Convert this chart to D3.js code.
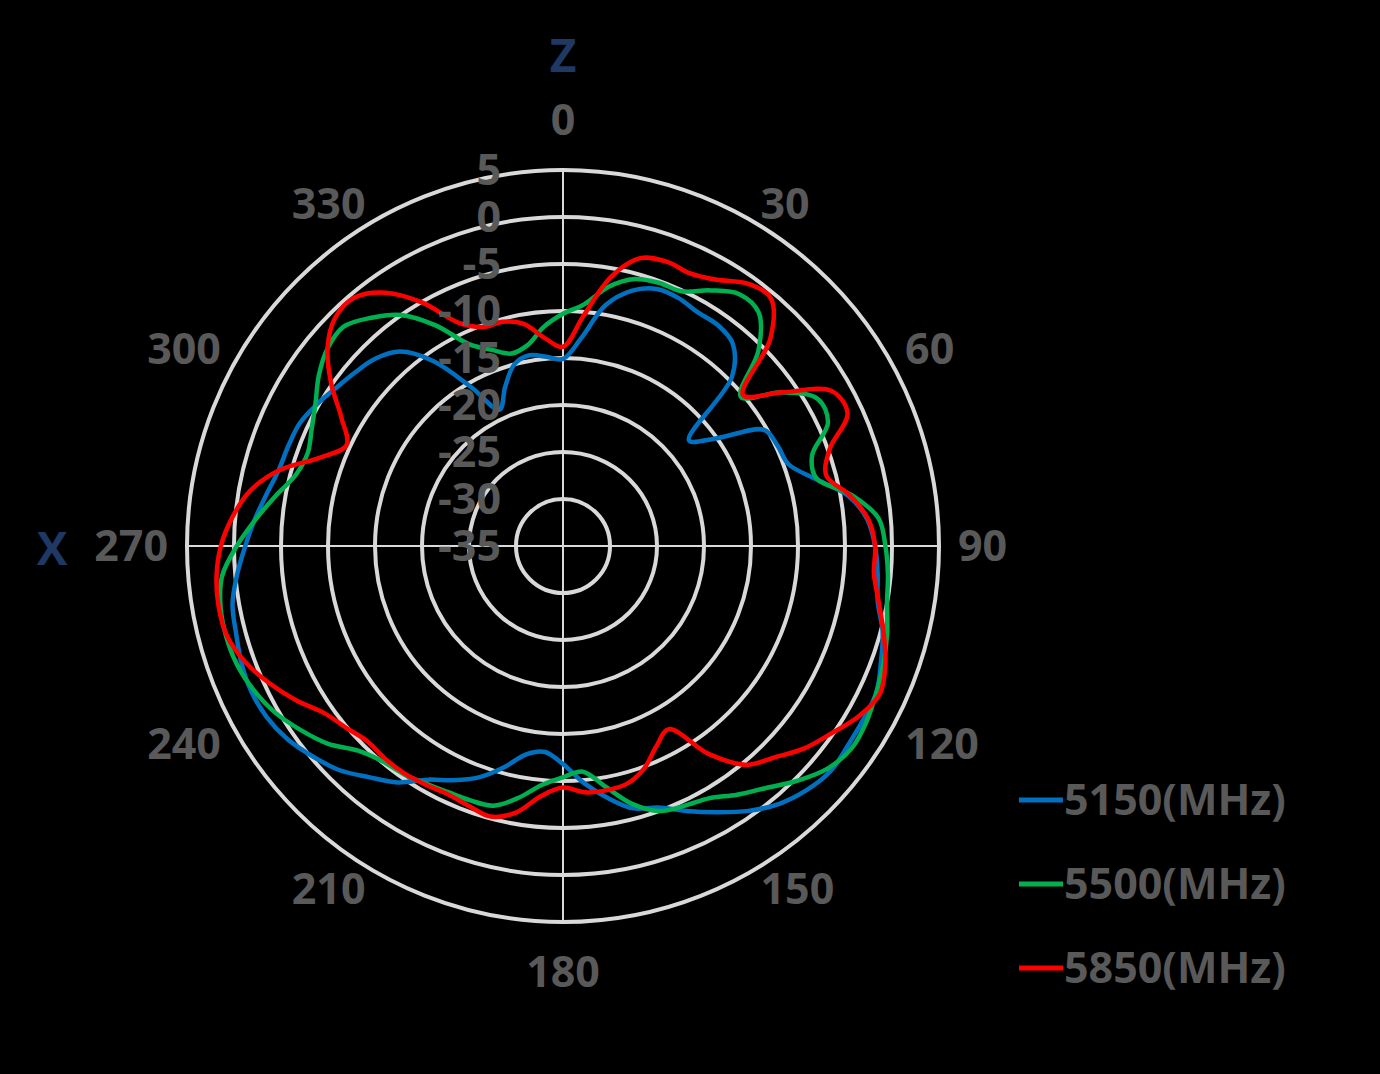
<!DOCTYPE html>
<html>
<head>
<meta charset="utf-8">
<script src="https://cdn.jsdelivr.net/npm/d3@7"></script>
<style>
  html, body { margin: 0; padding: 0; background: #000; }
  svg { display: block; }
  text { font-family: "Open Sans", "Noto Sans", sans-serif; font-weight: 700; }
</style>
</head>
<body>
<svg id="chart" width="1380" height="1074"></svg>
<script>
// ---- Data ----
const angles = [0,5,10,15,20,25,30,35,40,45,50,55,60,65,70,75,80,85,90,95,100,105,110,115,
  120,125,130,135,140,145,150,155,160,165,170,175,180,185,190,195,200,205,210,215,220,225,230,235,
  240,245,250,255,260,265,270,275,280,285,290,295,300,305,310,315,320,325,330,335,340,345,350,355];

const series5150 = [-15.1,-12.8,-9.0,-6.9,-5.9,-5.9,-6.3,-6.3,-6.9,-9.6,-17.5,-15.0,-10.3,-9.8,-9.5,-7.3,-4.2,-2.5,-1.8,-1.4,-1.0,0.2,1.0,1.8,
  1.9,2.0,2.2,1.7,0.8,-0.6,-2.3,-3.9,-5.4,-6.1,-7.8,-9.7,-11.8,-13.0,-12.5,-10.6,-8.8,-7.5,-6.3,-4.3,-2.9,-1.3,-0.2,0.8,
  1.4,1.6,1.4,1.0,0.7,-0.2,-1.2,-2.1,-3.0,-3.7,-3.9,-4.1,-4.8,-5.6,-6.2,-6.8,-8.0,-11.0,-15.5,-19.0,-17.0,-15.0,-14.4,-14.8];

const series5500 = [-10.3,-9.2,-7.0,-5.6,-5.2,-5.1,-3.6,-2.3,-2.6,-5.6,-10.3,-6.5,-3.7,-3.9,-6.8,-7.1,-3.8,-1.3,-0.7,-0.3,0.0,0.7,1.3,1.8,
  2.3,2.5,1.8,0.3,-1.4,-2.7,-4.0,-4.5,-5.0,-6.6,-9.0,-10.9,-10.4,-9.5,-7.8,-6.4,-6.2,-6.1,-5.8,-5.4,-5.1,-4.2,-2.3,-0.9,
  0.4,1.3,1.9,2.1,2.0,1.4,-0.3,-2.2,-4.0,-5.6,-6.1,-5.5,-4.6,-3.3,-2.3,-2.0,-3.3,-5.0,-7.9,-11.3,-12.8,-13.8,-13.3,-11.6];

const series5850 = [-13.8,-10.5,-6.0,-3.3,-2.8,-3.0,-2.3,-0.9,-0.6,-3.8,-10.0,-6.5,-2.0,-1.6,-4.8,-6.0,-4.0,-2.4,-1.8,-1.8,-0.9,0.3,1.5,2.2,
  1.3,-0.2,-1.5,-3.2,-4.6,-8.0,-12.5,-11.5,-9.8,-8.8,-8.6,-8.7,-9.3,-8.3,-6.2,-5.2,-5.6,-5.9,-5.7,-5.5,-5.5,-5.6,-4.9,-4.0,
  -2.2,-0.5,1.0,2.0,2.2,2.0,1.4,0.3,-1.2,-3.8,-7.5,-9.6,-7.8,-4.9,-2.3,-0.7,-0.5,-2.1,-5.1,-8.8,-10.2,-10.3,-11.0,-12.8];

const seriesNames = ["5150(MHz)", "5500(MHz)", "5850(MHz)"];
const seriesColors = ["#0070C0", "#00B050", "#FF0000"];
const radialTicks = [-35,-30,-25,-20,-15,-10,-5,0,5];
const angleTicks = [0,30,60,90,120,150,180,210,240,270,300,330];
const axisTitles = { z: "Z", x: "X" };

// ---- Layout ----
const cx = 563, cy = 546, R = 376;
const svg = d3.select("#chart");
svg.append("rect").attr("width", 1380).attr("height", 1074).attr("fill", "#000");

const r = d3.scaleLinear().domain([-35, 5]).range([0, R]);
const g = svg.append("g").attr("transform", `translate(${cx},${cy})`);

// rings
g.selectAll("circle.ring").data(radialTicks.filter(v => v > -35)).join("circle")
  .attr("class", "ring").attr("r", d => r(d))
  .attr("fill", "none").attr("stroke", "#D9D9D9").attr("stroke-width", 4);

// axes cross
g.append("line").attr("x1", 0).attr("x2", 0).attr("y1", -R).attr("y2", R)
  .attr("stroke", "#D9D9D9").attr("stroke-width", 2);
g.append("line").attr("y1", 0).attr("y2", 0).attr("x1", -R).attr("x2", R)
  .attr("stroke", "#D9D9D9").attr("stroke-width", 2);

// series
const allSeries = [series5150, series5500, series5850];
const line = d3.lineRadial()
  .angle(d => d[0] * Math.PI / 180)
  .radius(d => r(d[1]))
  .curve(d3.curveCatmullRomClosed.alpha(0.5));

allSeries.forEach((vals, i) => {
  const pts = angles.map((a, j) => [a, vals[j]]);
  g.append("path").attr("d", line(pts))
    .attr("fill", "none").attr("stroke", seriesColors[i])
    .attr("stroke-width", 4.5).attr("stroke-linejoin", "round");
});

// radial tick labels
g.selectAll("text.rt").data(radialTicks).join("text")
  .attr("class", "rt")
  .attr("x", -62).attr("y", d => -r(d)).attr("dy", "0.36em")
  .attr("text-anchor", "end").attr("font-size", 43).attr("fill", "#595959")
  .text(d => d);

// angle labels
const labR = 395;
g.selectAll("text.at").data(angleTicks).join("text")
  .attr("class", "at")
  .each(function(a) {
    const t = a * Math.PI / 180;
    const s = Math.sin(t), c = Math.cos(t);
    let rr = labR;
    let anchor = "middle";
    if (Math.abs(s) < 1e-6) rr = labR + 31;
    else anchor = s > 0 ? "start" : "end";
    d3.select(this).attr("x", rr * s).attr("y", -rr * c).attr("text-anchor", anchor);
  })
  .attr("dy", "0.36em").attr("font-size", 43).attr("fill", "#595959")
  .text(d => d);

// axis titles
svg.append("text").attr("x", cx).attr("y", 55).attr("dy", "0.36em")
  .attr("text-anchor", "middle").attr("font-size", 46).attr("fill", "#1F3864")
  .text(axisTitles.z);
svg.append("text").attr("x", 52).attr("y", 548).attr("dy", "0.36em")
  .attr("text-anchor", "middle").attr("font-size", 46).attr("fill", "#1F3864")
  .text(axisTitles.x);

// legend
const lg = svg.append("g");
seriesNames.forEach((name, i) => {
  const y = 800 + i * 84;
  lg.append("line").attr("x1", 1019).attr("x2", 1063).attr("y1", y).attr("y2", y)
    .attr("stroke", seriesColors[i]).attr("stroke-width", 5);
  lg.append("text").attr("x", 1064).attr("y", y).attr("dy", "0.36em")
    .attr("font-size", 43).attr("fill", "#595959").text(name);
});
</script>
</body>
</html>
